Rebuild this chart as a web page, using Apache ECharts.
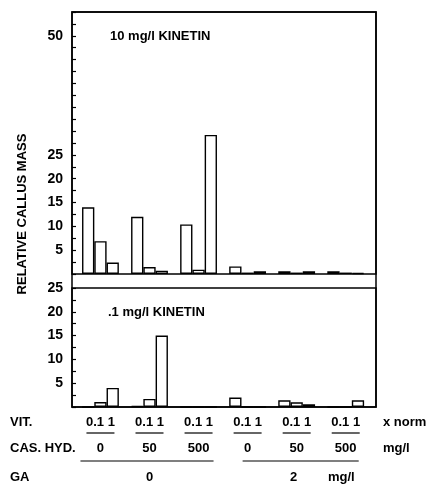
<!DOCTYPE html>
<html><head><meta charset="utf-8">
<script src="https://cdn.jsdelivr.net/npm/echarts@6/dist/echarts.min.js"></script>
<style>html,body{margin:0;padding:0;background:#fff}#c{width:435px;height:485px}</style>
</head><body><div id="c"></div>
<script>
// ---- data ----
const vitLevels = ['0', '.1', '1'];          // x norm
const vitText = '0.1 1';
const casLevels = ['0', '50', '500', '0', '50', '500'];  // mg/l
const gaLevels = ['0', '2'];                 // mg/l
const kinetin10 = [14.0, 6.9, 2.4, 12.0, 1.45, 0.7, 10.4, 0.9, 29.2, 1.6, 0.3, 0.6, 0.6, 0.3, 0.6, 0.6, 0.3, 0.2];
const kinetin01 = [0, 1.05, 4.0, 0.2, 1.7, 15.0, 0, 0, 0, 2.0, 0, 0, 1.4, 1.0, 0.6, 0, 0, 1.4];
const topTickLabels = [5, 10, 15, 20, 25, 50];
const bottomTickLabels = [5, 10, 15, 20, 25];
const panelTitles = ['10 mg/l KINETIN', '.1 mg/l KINETIN'];
const yTitle = 'RELATIVE CALLUS MASS';

// ---- build ----
const FONT = 'bold 13px "Liberation Sans", Arial, sans-serif';
function toPoints(vals) {
  return vals.map((v, i) => [Math.floor(i / vitLevels.length) * 4 + (i % vitLevels.length), v]);
}
const chart = echarts.init(document.getElementById('c'));
const L = 72, R = 376, W = R - L;
const xAx = (gi) => ({ gridIndex: gi, type: 'value', min: -1.32, max: 23.47, show: false });
const yAx = (gi, max, labels) => ({
  gridIndex: gi, type: 'value', min: 0, max: max, interval: 2.5, position: 'left',
  axisLine: { show: false, onZero: false },
  axisTick: { show: true, inside: true, length: 4, lineStyle: { color: '#000', width: 1.2 } },
  splitLine: { show: false },
  axisLabel: {
    color: '#000', fontWeight: 'bold', fontSize: 14, fontFamily: '"Liberation Sans", Arial, sans-serif', margin: 9,
    formatter: (v) => labels.includes(v) ? String(v) : ''
  }
});
const barStyle = { color: '#fff', borderColor: '#000', borderWidth: 1.4 };
chart.setOption({
  animation: false,
  backgroundColor: '#fff',
  grid: [
    { left: L, top: 12, width: W, height: 262, show: true, borderColor: '#000', borderWidth: 1.5, backgroundColor: 'transparent' },
    { left: L, top: 288, width: W, height: 119, show: true, borderColor: '#000', borderWidth: 1.5, backgroundColor: 'transparent' }
  ],
  xAxis: [xAx(0), xAx(1)],
  yAxis: [yAx(0, 55, topTickLabels), yAx(1, 25, bottomTickLabels)],
  series: [
    { type: 'bar', xAxisIndex: 0, yAxisIndex: 0, data: toPoints(kinetin10), barWidth: 12.3, itemStyle: barStyle },
    { type: 'bar', xAxisIndex: 1, yAxisIndex: 1, data: toPoints(kinetin01), barWidth: 12.3, itemStyle: barStyle }
  ]
});

// ---- annotations derived from the axes ----
const g = [];
const txt = (text, x, y, align, extra) => g.push(Object.assign({
  type: 'text', x: x, y: y,
  style: { text: text, fill: '#000', font: FONT, textAlign: align || 'left', textVerticalAlign: 'middle' }
}, extra || {}));
const line = (x1, y1, x2, y2) => g.push({ type: 'line', shape: { x1, y1, x2, y2 }, style: { stroke: '#000', lineWidth: 1.2 } });

// outer frame joining the two panels
g.push({ type: 'rect', shape: { x: L, y: 12, width: W, height: 395 }, style: { fill: 'none', stroke: '#000', lineWidth: 1.5 } });

const nG = casLevels.length;
const centers = [];
for (let k = 0; k < nG; k++) centers.push(chart.convertToPixel({ xAxisIndex: 1 }, k * 4 + 1));

txt(panelTitles[0], 110, 36);
txt(panelTitles[1], 108, 312);
txt(yTitle, 22, 214, 'center', { rotation: Math.PI / 2 });

// row VIT
txt('VIT.', 10, 422);
centers.forEach(c => { txt(vitText, c, 422, 'center'); line(c - 14, 433, c + 14, 433); });
txt('x norm', 383, 422);
// row CAS. HYD.
txt('CAS. HYD.', 10, 448);
centers.forEach((c, k) => txt(casLevels[k], c, 448, 'center'));
txt('mg/l', 383, 448);
line(centers[0] - 20, 461, centers[2] + 15, 461);
line(centers[3] - 5, 461, centers[5] + 13, 461);
// row GA
txt('GA', 10, 477);
txt(gaLevels[0], centers[1], 477, 'center');
txt(gaLevels[1], centers[4] - 3, 477, 'center');
txt('mg/l', 328, 477);

chart.setOption({ graphic: g });
</script>
</body></html>
